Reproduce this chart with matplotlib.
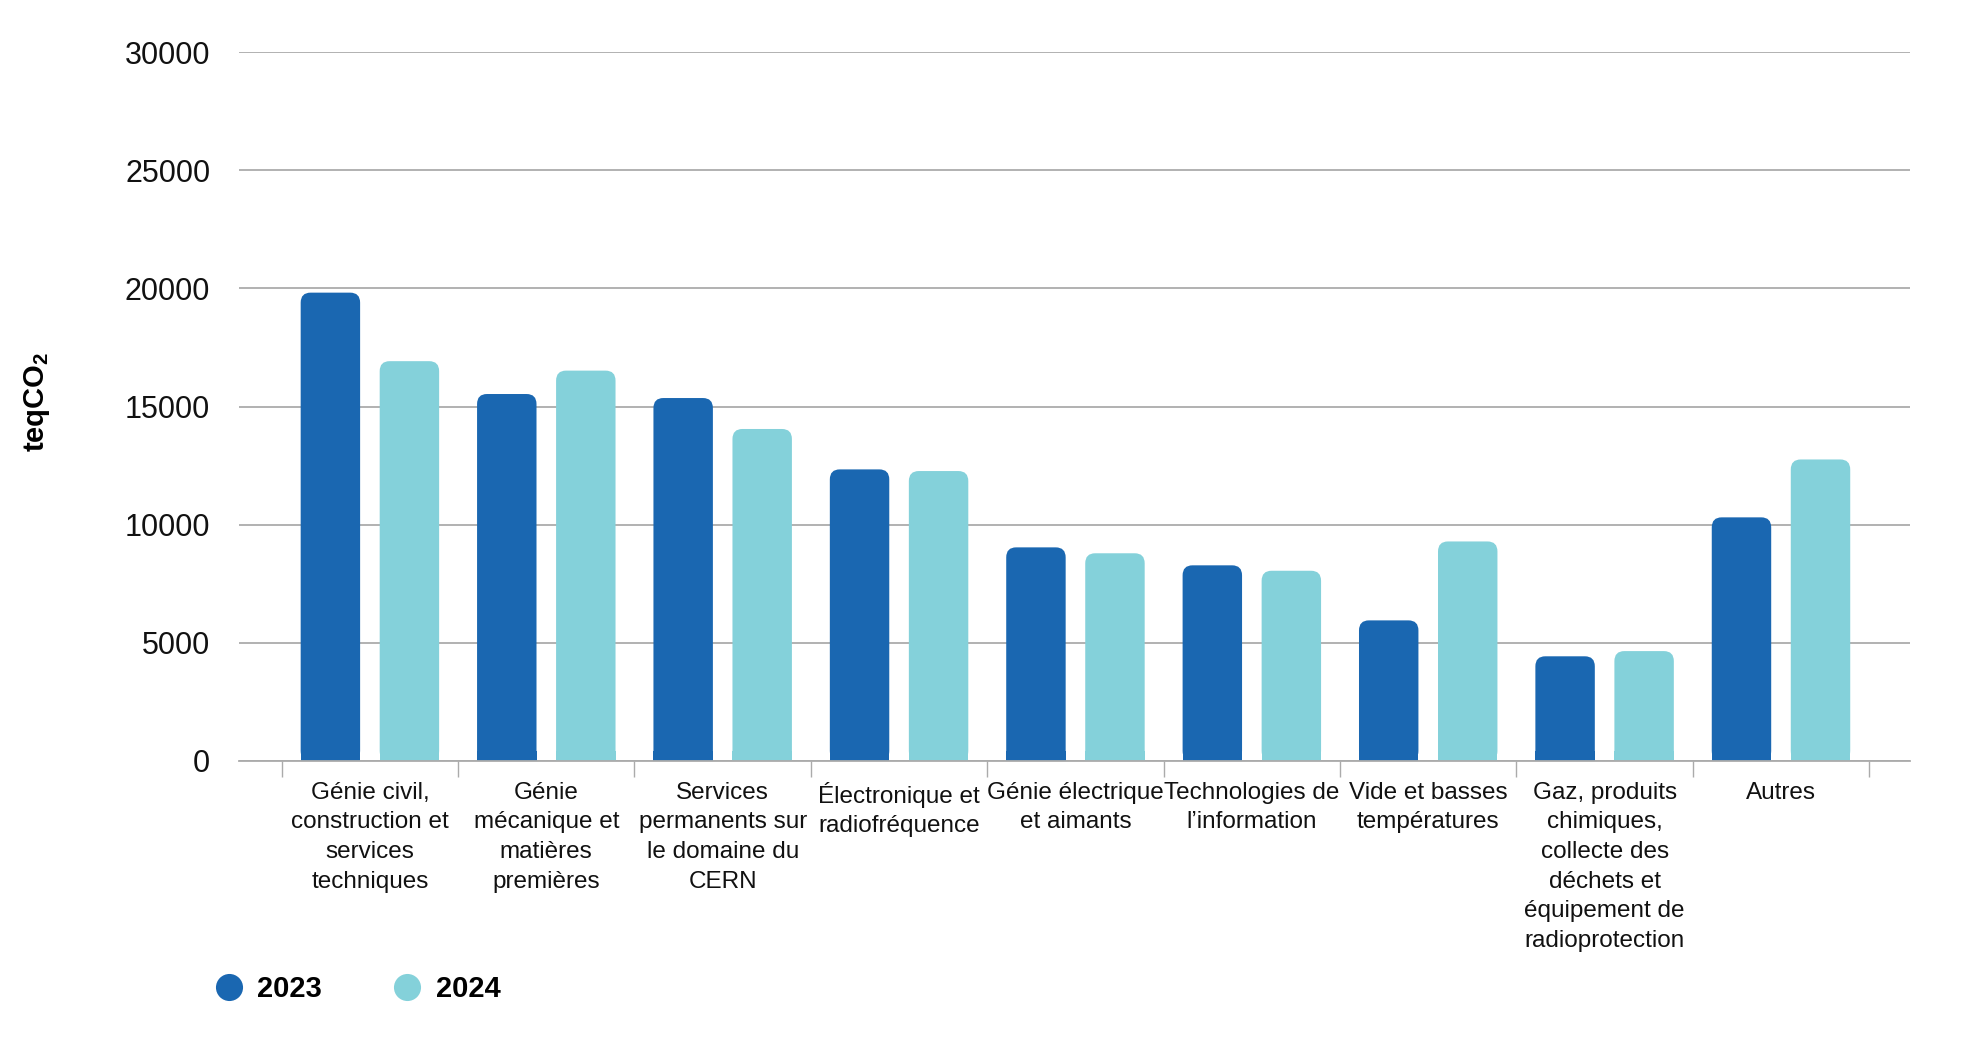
import numpy as np
import matplotlib as mpl
import matplotlib.pyplot as plt
from matplotlib.patches import FancyBboxPatch, Rectangle
from matplotlib.lines import Line2D

mpl.rcParams['font.family'] = ['Liberation Sans', 'DejaVu Sans']

# data
categories = ['Génie civil,\nconstruction et\nservices\ntechniques',
              'Génie\nmécanique et\nmatières\npremières',
              'Services\npermanents sur\nle domaine du\nCERN',
              'Électronique et\nradiofréquence',
              'Génie électrique\net aimants',
              'Technologies de\nl’information',
              'Vide et basses\ntempératures',
              'Gaz, produits\nchimiques,\ncollecte des\ndéchets et\néquipement de\nradioprotection',
              'Autres']
values_2023 = [19820, 15530, 15360, 12340, 9040, 8280, 5950, 4430, 10310]
values_2024 = [16920, 16520, 14050, 12270, 8790, 8050, 9290, 4650, 12760]
years = ['2023', '2024']
colors = ['#1a67b1', '#84d1da']
yticks = [0, 5000, 10000, 15000, 20000, 25000, 30000]

grid_col = '#ababab'

fig = plt.figure(figsize=(19.8, 10.42), dpi=100)
ax = fig.add_axes([0.1209, 0.2697, 0.8438, 0.6803])

x = np.arange(len(categories))
bw = 0.337
off = 0.224
bars1 = ax.bar(x - off, values_2023, bw, color=colors[0], zorder=3)
bars2 = ax.bar(x + off, values_2024, bw, color=colors[1], zorder=3)

ax.set_xlim(-0.740, 8.732)
ax.set_ylim(0, 30000)

# rounded top corners (radius ~10 px)
rx = 0.056
ry = 423
for bars in (bars1, bars2):
    for b in bars:
        b.set_visible(False)
        bx, by = b.get_x(), b.get_y()
        w, h = b.get_width(), b.get_height()
        fc = b.get_facecolor()
        ax.add_patch(FancyBboxPatch((bx, by), w, h,
                                    boxstyle=f'round,pad=0,rounding_size={rx}',
                                    mutation_aspect=ry / rx,
                                    fc=fc, ec='none', zorder=3))
        ax.add_patch(Rectangle((bx, by), w, min(h, ry), fc=fc, ec='none', zorder=3))

# grid and spines
ax.set_yticks(yticks)
ax.set_yticklabels([str(v) for v in yticks], fontsize=22, color='#111111')
ax.yaxis.grid(True, color=grid_col, linewidth=1.3, zorder=0)
ax.tick_params(axis='y', length=0, pad=21)
for s in ['top', 'right', 'left']:
    ax.spines[s].set_visible(False)
ax.spines['bottom'].set_color(grid_col)
ax.spines['bottom'].set_linewidth(1.3)
ax.spines['bottom'].set_zorder(4)

ax.set_xticks(x)
ax.set_xticklabels(categories, fontsize=17.5, color='#111111', linespacing=1.45,
                   va='top', ha='center')
ax.set_xticks(np.arange(len(categories) + 1) - 0.5, minor=True)
ax.tick_params(axis='x', which='major', length=0, pad=15)
ax.tick_params(axis='x', which='minor', length=11.5, width=1, color=grid_col)

fig.text(37 / 1980, 0.614, r'teqCO$_{\mathregular{2}}$', fontsize=21,
         fontweight='bold', rotation=90, ha='center', va='center')

handles = [Line2D([], [], marker='o', linestyle='none', markersize=19.5,
                  markerfacecolor=c, markeredgecolor='none') for c in colors]
leg = fig.legend(handles, years, loc='center left', bbox_to_anchor=(214 / 1980, 0.051),
                 ncol=2, frameon=False, handlelength=1.0, handletextpad=0.48,
                 columnspacing=2.42, borderpad=0, borderaxespad=0,
                 prop={'size': 21, 'weight': 'bold'})

fig.savefig('out.png', dpi=100)
